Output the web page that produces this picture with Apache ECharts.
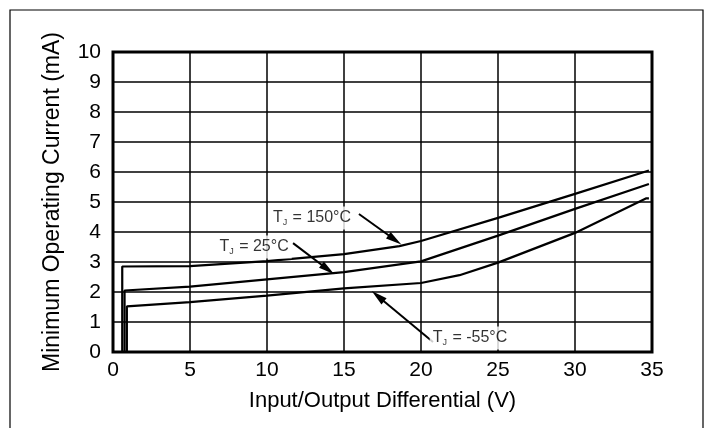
<!DOCTYPE html>
<html>
<head>
<meta charset="utf-8">
<script src="https://cdn.jsdelivr.net/npm/echarts@6/dist/echarts.min.js"></script>
<style>
html,body{margin:0;padding:0;background:#fff;}
#c{width:712px;height:428px;}
</style>
</head>
<body>
<div id="c"></div>
<script>
// ---- data ----
var xTicks = [0, 5, 10, 15, 20, 25, 30, 35];
var yTicks = [0, 1, 2, 3, 4, 5, 6, 7, 8, 9, 10];

var curve150 = [[0.6,0],[0.6,2.85],[5,2.86],[10,3.03],[15,3.26],[18.6,3.53],[20,3.7],[25,4.47],[30,5.27],[34.8,6.05]];
var curve25  = [[0.75,0],[0.75,2.05],[5,2.18],[10,2.42],[15,2.66],[20,3.02],[25,3.88],[30,4.77],[34.8,5.6]];
var curveM55 = [[0.9,0],[0.9,1.52],[5,1.66],[10,1.88],[15,2.12],[20,2.3],[22.5,2.56],[25,2.98],[30,3.97],[34.6,5.12],[34.8,5.12]];

var labelTexts = ['150°C', '25°C', '-55°C'];
var labelPos   = [[12.92,4.47],[9.16,3.5],[23.18,0.47]];
var arrowFrom  = [[15.97,4.6],[11.69,3.63],[20.78,0.33]];
var arrowTo    = [[18.3,3.74],[13.95,2.75],[17.2,1.86]];

// ---- chart ----
var FONT = "'Liberation Sans', Arial, sans-serif";
var chart = echarts.init(document.getElementById('c'), null, {renderer:'canvas'});

var lineStyle = {color:'#000', width:2.2};
function curve(name, d){
  return {name:name, type:'line', data:d, showSymbol:false, symbol:'none',
    lineStyle:lineStyle, itemStyle:{color:'#000'}, silent:true, z:3};
}

var arrows = [];
for (var i=0;i<arrowFrom.length;i++){
  arrows.push([{coord:arrowFrom[i]},{coord:arrowTo[i]}]);
}
var labels = [];
for (var j=0;j<labelTexts.length;j++){
  labels.push({value:labelPos[j], txt:labelTexts[j]});
}

var s150 = curve('150', curve150);
s150.markLine = {
  silent:true, animation:false,
  symbol:['none','triangle'], symbolSize:[8,16],
  lineStyle:{color:'#000', width:2, type:'solid'},
  itemStyle:{color:'#000'},
  label:{show:false},
  data:arrows
};

var option = {
  animation:false,
  backgroundColor:'#fff',
  textStyle:{fontFamily:FONT},
  grid:{left:113, right:60, top:52, bottom:76, show:true, borderColor:'#000', borderWidth:3, backgroundColor:'transparent'},
  xAxis:{
    type:'value', min:xTicks[0], max:xTicks[xTicks.length-1], interval:5,
    name:'Input/Output Differential (V)', nameLocation:'middle', nameGap:38,
    nameTextStyle:{fontSize:22, color:'#000', fontFamily:FONT},
    axisLine:{show:false}, axisTick:{show:false},
    axisLabel:{fontSize:21, color:'#000', margin:8, fontFamily:FONT},
    splitLine:{show:true, lineStyle:{color:'#000', width:1.5}}
  },
  yAxis:{
    type:'value', min:yTicks[0], max:yTicks[yTicks.length-1], interval:1,
    name:'Minimum Operating Current (mA)', nameLocation:'middle', nameGap:49,
    nameTextStyle:{fontSize:23, color:'#000', fontFamily:FONT},
    axisLine:{show:false}, axisTick:{show:false},
    axisLabel:{fontSize:21, color:'#000', margin:12, fontFamily:FONT},
    splitLine:{show:true, lineStyle:{color:'#000', width:1.5}}
  },
  graphic:[{type:'rect', shape:{x:10, y:10, width:693, height:440}, style:{fill:'none', stroke:'#000', lineWidth:1.2}, silent:true, z:-1}],
  series:[
    s150,
    curve('25', curve25),
    curve('-55', curveM55),
    {
      type:'scatter', symbolSize:0, silent:true, z:5,
      data:labels,
      label:{
        show:true, position:'inside', backgroundColor:'#fff', padding:[2,3,2,3],
        formatter:function(p){ return '{t|T}{s|J}{t| = ' + p.data.txt + '}'; },
        rich:{
          t:{fontSize:16, lineHeight:19, color:'#000', fontFamily:FONT},
          s:{fontSize:9, lineHeight:9, verticalAlign:'bottom', color:'#000', fontFamily:FONT, padding:[0,1,0,0]}
        }
      }
    }
  ]
};
chart.setOption(option);
</script>
</body>
</html>
